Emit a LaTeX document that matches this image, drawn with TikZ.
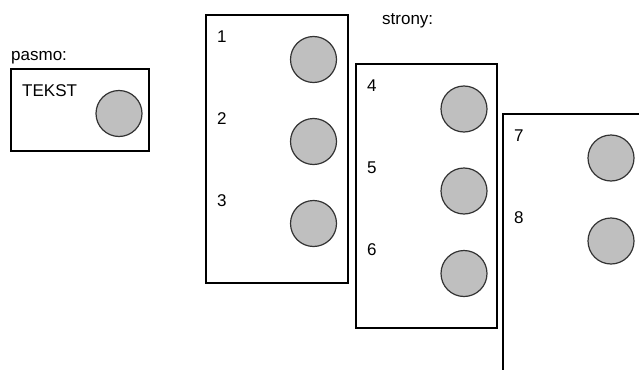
\documentclass[tikz,border=0pt]{standalone}
\usepackage{fontspec}
\setmainfont{Liberation Sans}
\begin{document}
\begin{tikzpicture}[x=1pt,y=-1pt,
  pagebox/.style={draw=black, line width=1.2pt, anchor=north west, inner sep=0pt, outer sep=0pt},
  dot/.style={circle, draw=black!80, fill=black!25, line width=1.2pt, minimum size=46pt, inner sep=0pt},
  lbl/.style={anchor=base west, inner sep=0pt, font=\fontsize{17}{19}\selectfont}]
\clip (0,0) rectangle (639,369);
\fill[white] (0,0) rectangle (639,369);
% pasmo
\node[lbl] (pasmo) at (11,60) {pasmo:};
\node[pagebox, minimum width=138pt, minimum height=82pt] (bp) at (11,69) {};
\node[lbl] (tekst) at (22,96) {TEKST};
\node[dot] (cp) at (119,113.5) {};
% strony
\node[lbl] (strony) at (382,25) {strony:};
% page 1
\node[pagebox, minimum width=142pt, minimum height=268pt] (b1) at (206,15) {};
\node[lbl] (l1) at (217,42) {1};
\node[lbl] (l2) at (217,124) {2};
\node[lbl] (l3) at (217,206) {3};
\node[dot] (c1) at (313.5,59.5) {};
\node[dot] (c2) at (313.5,141.5) {};
\node[dot] (c3) at (313.5,223.5) {};
% page 2
\node[pagebox, minimum width=141pt, minimum height=264pt] (b2) at (356,64) {};
\node[lbl] (l4) at (367,91.5) {4};
\node[lbl] (l5) at (367,173.5) {5};
\node[lbl] (l6) at (367,255.5) {6};
\node[dot] (c4) at (464,109) {};
\node[dot] (c5) at (464,191) {};
\node[dot] (c6) at (464,273.5) {};
% page 3 (cut off)
\node[pagebox, minimum width=200pt, minimum height=300pt] (b3) at (503,114) {};
\node[lbl] (l7) at (514,141) {7};
\node[lbl] (l8) at (514,223.5) {8};
\node[dot] (c7) at (611,158) {};
\node[dot] (c8) at (611,241) {};
\end{tikzpicture}
\end{document}
